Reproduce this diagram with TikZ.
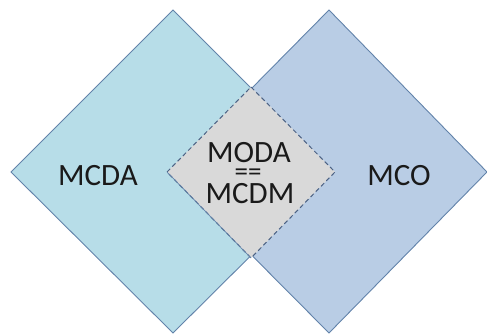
\documentclass[tikz,border=0pt]{standalone}
\usepackage{fontspec}
\setmainfont{Carlito}
\definecolor{aquafill}{HTML}{B7DDE8}
\definecolor{bluefill}{HTML}{B9CDE5}
\definecolor{grayfill}{HTML}{D9D9D9}
\definecolor{edgeblue}{HTML}{6283AA}
\definecolor{dashblue}{HTML}{4D6385}
\definecolor{txt}{HTML}{1A1A1A}
\begin{document}
\begin{tikzpicture}[x=1pt,y=-1pt,
  region/.style={draw=edgeblue,line width=0.9pt,line join=miter},
  overlap/.style={draw=dashblue,line width=1pt,dash pattern=on 4.5pt off 3pt,fill=grayfill},
  lbl/.style={font=\fontsize{31}{32}\selectfont,text=txt,anchor=base,inner sep=0pt}]
\useasboundingbox (0,0) rectangle (487,334);
% left diamond
\coordinate (lt) at (173,10);
\coordinate (lr) at (335,172);
\coordinate (lb) at (173,333);
\coordinate (ll) at (11,172);
% right diamond
\coordinate (rt) at (329,10);
\coordinate (rr) at (487,172);
\coordinate (rb) at (329,333);
\coordinate (rl) at (169,172);
% overlap
\coordinate (ot) at (251,87);
\coordinate (or) at (335,172);
\coordinate (ob) at (251,258);
\coordinate (ol) at (167,172);
\path[region,fill=aquafill] (lt) -- (lr) -- (lb) -- (ll) -- cycle;
\path[region,fill=bluefill] (rt) -- (rr) -- (rb) -- (rl) -- cycle;
\path[overlap] (ot) -- (or) -- (ob) -- (ol) -- cycle;
\draw[draw=edgeblue,line width=0.7pt] (ol) -- (ob);
\node[lbl] (mcda) at (98,185) {MCDA};
\node[lbl] (mco) at (399,185) {MCO};
\node[lbl] (moda) at (249,162) {MODA};
\node[lbl,font=\fontsize{27}{28}\selectfont] (eq) at (248,180) {==};
\node[lbl] (mcdm) at (250,203) {MCDM};
\end{tikzpicture}
\end{document}
